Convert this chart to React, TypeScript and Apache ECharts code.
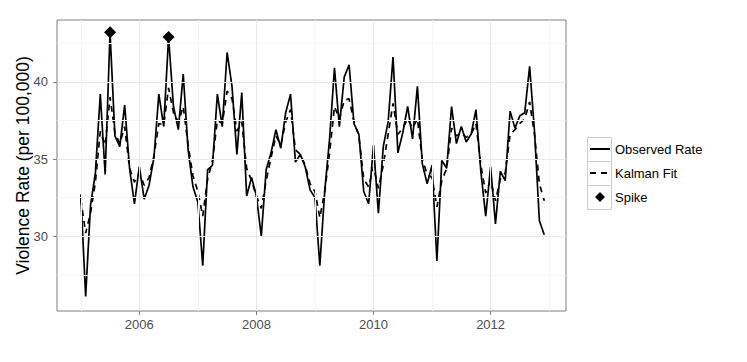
import React, { useEffect, useRef } from "react";
import * as echarts from "echarts";

// ---- data (monthly, Jan 2005 – Dec 2012) ----
const startYear = 2005;

const observed2005 = [32.7, 26.1, 32.0, 34.1, 39.2, 34.0, 43.2, 36.5, 35.8, 38.5, 34.4, 32.1];
const observed2006 = [34.5, 32.4, 33.3, 35.1, 39.2, 37.1, 42.9, 38.4, 36.9, 40.5, 35.6, 33.2];
const observed2007 = [32.2, 28.1, 34.3, 34.6, 39.2, 37.1, 41.9, 39.7, 35.3, 39.3, 32.6, 33.8];
const observed2008 = [32.6, 30.0, 34.3, 35.4, 36.9, 35.7, 38.0, 39.2, 34.8, 35.3, 34.5, 33.0];
const observed2009 = [32.5, 28.1, 32.9, 36.3, 40.9, 37.1, 40.3, 41.1, 37.3, 36.6, 32.9, 32.1];
const observed2010 = [35.9, 31.5, 35.8, 37.4, 41.6, 35.4, 36.7, 38.4, 36.3, 39.7, 34.7, 33.4];
const observed2011 = [34.6, 28.4, 34.9, 34.4, 38.4, 36.0, 37.1, 36.1, 36.6, 38.2, 34.2, 31.3];
const observed2012 = [34.5, 30.8, 34.2, 33.6, 38.1, 37.0, 37.8, 38.0, 41.0, 36.8, 31.0, 30.1];

const fit2005 = [32.4, 30.2, 31.5, 33.5, 36.8, 35.9, 39.0, 36.7, 36.0, 37.1, 34.4, 33.5];
const fit2006 = [34.1, 33.3, 33.8, 35.2, 37.3, 37.2, 39.6, 38.0, 37.4, 38.4, 35.9, 33.9];
const fit2007 = [32.9, 31.3, 33.7, 34.9, 37.5, 37.3, 39.4, 38.9, 36.8, 37.4, 34.4, 33.6];
const fit2008 = [32.6, 31.8, 33.6, 35.1, 36.5, 35.9, 37.4, 38.2, 35.6, 35.3, 34.6, 33.4];
const fit2009 = [32.9, 31.2, 32.9, 35.4, 38.4, 37.6, 38.8, 38.9, 37.4, 36.5, 33.7, 33.2];
const fit2010 = [34.5, 33.1, 34.6, 36.6, 38.6, 36.6, 37.0, 37.6, 37.0, 37.6, 35.0, 34.0];
const fit2011 = [33.8, 31.9, 33.6, 34.4, 37.0, 36.5, 36.7, 36.4, 36.6, 37.3, 34.6, 32.8];
const fit2012 = [33.6, 32.3, 33.7, 34.1, 36.6, 36.9, 37.3, 37.6, 38.7, 36.6, 33.4, 32.3];

const observedRate = [
  ...observed2005, ...observed2006, ...observed2007, ...observed2008,
  ...observed2009, ...observed2010, ...observed2011, ...observed2012,
];
const kalmanFit = [
  ...fit2005, ...fit2006, ...fit2007, ...fit2008,
  ...fit2009, ...fit2010, ...fit2011, ...fit2012,
];

const spikeMonths = ["2005-07", "2006-07"];
const spikeValues = [43.2, 42.9];

const xMajorYears = [2006, 2008, 2010, 2012];
const xMinorYears = [2005, 2007, 2009, 2011, 2013];
const yMajor = [30, 35, 40];
const yMinor = [27.5, 32.5, 37.5, 42.5];

const seriesNames = ["Observed Rate", "Kalman Fit", "Spike"];

// ---- helpers ----
const monthIndexToYear = (i: number) => startYear + i / 12;
const ymToYear = (s: string) => {
  const [y, m] = s.split("-").map(Number);
  return y + (m - 1) / 12;
};

const FONT = "'Liberation Sans', Arial, Helvetica, sans-serif";

export default function App() {
  const ref = useRef<HTMLDivElement>(null);

  useEffect(() => {
    if (!ref.current) return;
    const chart = echarts.init(ref.current, undefined, { renderer: "svg" });

    const obsData = observedRate.map((v, i) => [monthIndexToYear(i), v]);
    const fitData = kalmanFit.map((v, i) => [monthIndexToYear(i), v]);
    const spikeData = spikeMonths.map((m, i) => [ymToYear(m), spikeValues[i]]);

    const majorColor = "#e8e8e8";
    const minorColor = "#f5f5f5";

    const gridLines = [
      ...yMinor.map((v) => ({ yAxis: v, lineStyle: { color: minorColor } })),
      ...xMinorYears.map((v) => ({ xAxis: v, lineStyle: { color: minorColor } })),
      ...yMajor.map((v) => ({ yAxis: v, lineStyle: { color: majorColor } })),
      ...xMajorYears.map((v) => ({ xAxis: v, lineStyle: { color: majorColor } })),
    ];

    const option: any = {
      animation: false,
      textStyle: { fontFamily: FONT },
      grid: {
        left: 57,
        right: 181,
        top: 20,
        bottom: 51,
        show: true,
        borderColor: "#7f7f7f",
        borderWidth: 1,
        backgroundColor: "#ffffff",
      },
      xAxis: {
        type: "value",
        min: 2004.594,
        max: 2013.288,
        splitLine: { show: false },
        axisLine: { show: false },
        axisTick: {
          show: true,
          length: 4,
          lineStyle: { color: "#7f7f7f" },
          customValues: xMajorYears,
        },
        axisLabel: {
          customValues: xMajorYears,
          formatter: (v: number) => String(Math.round(v)),
          color: "#4d4d4d",
          fontSize: 13,
          margin: 7,
          fontFamily: FONT,
        },
      },
      yAxis: {
        type: "value",
        min: 25.16,
        max: 44.0,
        name: "Violence Rate (per 100,000)",
        nameLocation: "middle",
        nameGap: 25,
        nameMoveOverlap: false,
        nameTextStyle: { fontSize: 17.5, color: "#000", fontFamily: FONT },
        splitLine: { show: false },
        axisLine: { show: false },
        axisTick: {
          show: true,
          length: 4,
          lineStyle: { color: "#7f7f7f" },
          customValues: yMajor,
        },
        axisLabel: {
          customValues: yMajor,
          formatter: (v: number) => String(Math.round(v)),
          color: "#4d4d4d",
          fontSize: 13,
          margin: 9,
          fontFamily: FONT,
        },
      },
      legend: {
        orient: "vertical",
        left: 589,
        top: 137,
        padding: 0,
        itemWidth: 20,
        itemHeight: 10,
        itemGap: 0,
        selectedMode: false,
        symbolKeepAspect: true,
        data: [
          { name: seriesNames[0], itemStyle: { opacity: 0 } },
          { name: seriesNames[1], itemStyle: { opacity: 0 } },
          { name: seriesNames[2], icon: "path://M5,0L10,5L5,10L0,5Z", itemStyle: { opacity: 1, color: "#000" } },
        ],
        textStyle: { fontSize: 13, color: "#000", fontFamily: FONT, lineHeight: 24 },
      },
      graphic: seriesNames.map((_, k) => ({
        type: "rect",
        z: -1,
        shape: { x: 587.5, y: 137.5 + 24 * k, width: 24, height: 24 },
        style: { fill: "#ffffff", stroke: "#cccccc", lineWidth: 1 },
        silent: true,
      })),
      series: [
        {
          type: "line",
          name: "__grid",
          data: [],
          z: 1,
          silent: true,
          showSymbol: false,
          markLine: {
            silent: true,
            symbol: ["none", "none"],
            label: { show: false },
            animation: false,
            lineStyle: { type: "solid", width: 1 },
            emphasis: { disabled: true },
            data: gridLines,
          },
        },
        {
          type: "line",
          name: "Observed Rate",
          data: obsData,
          z: 3,
          showSymbol: false,
          symbol: "none",
          lineStyle: { color: "#000", width: 1.7 },
          itemStyle: { color: "#000" },
        },
        {
          type: "line",
          name: "Kalman Fit",
          data: fitData,
          z: 3,
          showSymbol: false,
          symbol: "none",
          lineStyle: { color: "#000", width: 1.7, type: [6, 5] },
          itemStyle: { color: "#000" },
        },
        {
          type: "scatter",
          name: "Spike",
          data: spikeData,
          z: 4,
          symbol: "diamond",
          symbolSize: 12,
          itemStyle: { color: "#000", opacity: 1 },
        },
      ],
    };

    chart.setOption(option);
    return () => chart.dispose();
  }, []);

  return (
    <div
      ref={ref}
      style={{ position: "absolute", left: 0, top: 0, width: 747, height: 362, background: "#fff" }}
    />
  );
}
